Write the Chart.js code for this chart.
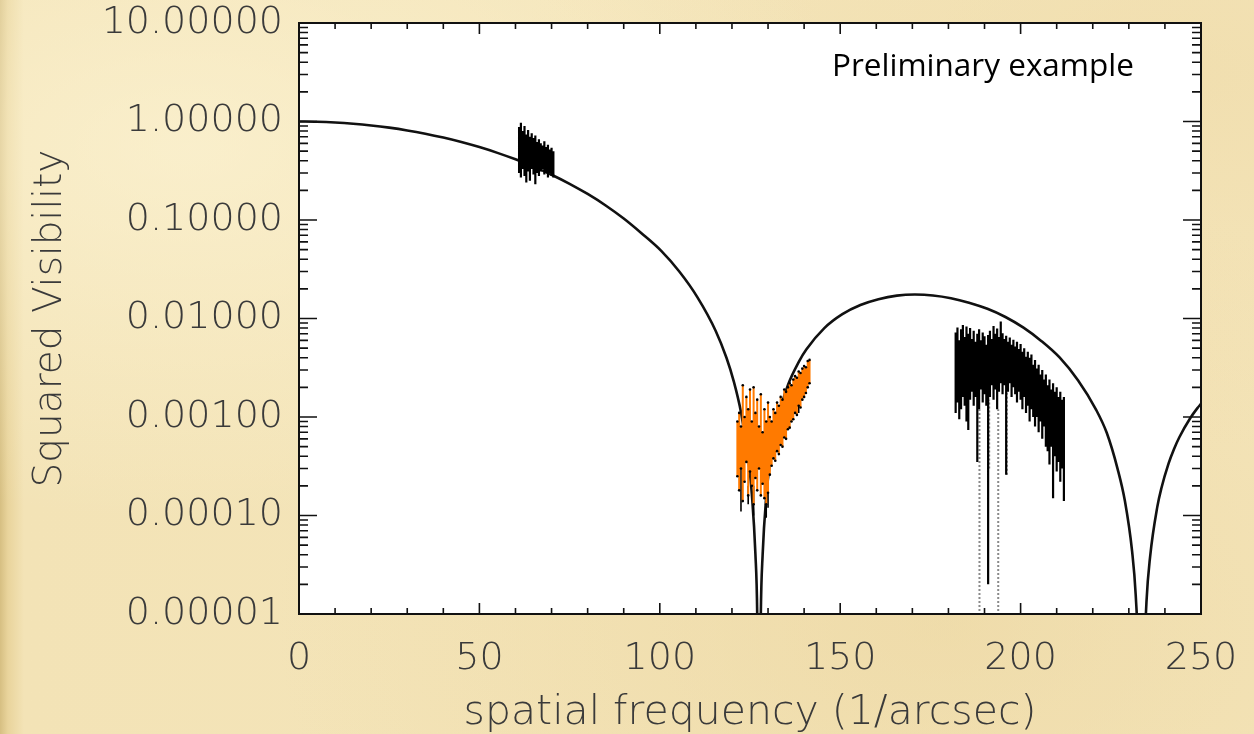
<!DOCTYPE html>
<html>
<head>
<meta charset="utf-8">
<script src="https://cdn.jsdelivr.net/npm/chart.js@4.4.1/dist/chart.umd.min.js"></script>
<style>
    html, body { margin: 0; padding: 0; }
    body {
        width: 1254px;
        height: 734px;
        overflow: hidden;
        background-color: #f4e4b8;
        background-image:
            radial-gradient(ellipse at 15% 20%, rgba(255, 248, 220, 0.55), transparent 45%),
            radial-gradient(ellipse at 75% 85%, rgba(232, 208, 150, 0.45), transparent 50%),
            radial-gradient(ellipse at 95% 10%, rgba(236, 214, 160, 0.45), transparent 40%),
            linear-gradient(90deg, #d6bf82 0px, #e9d49c 8px, #f3e3b6 24px, #f5e6bc 100%);
    }
    #wrap { position: relative; width: 1254px; height: 734px; }
    #note {
        position: absolute;
        left: 832px;
        top: 48px;
        font-family: "Open Sans", sans-serif;
        font-size: 31.5px;
        line-height: 31px;
        color: #000;
        white-space: nowrap;
    }
</style>
</head>
<body>
<div id="wrap">
    <canvas id="visChart" width="1254" height="734"></canvas>
    <div id="note">Preliminary example</div>
</div>
<script>
// axes
const xTicks = [0, 50, 100, 150, 200, 250];
const yTicks = [0.00001, 0.0001, 0.001, 0.01, 0.1, 1, 10];
const yTickLabels = ["0.00001", "0.00010", "0.00100", "0.01000", "0.10000", "1.00000", "10.00000"];

// model curve
const curveX = [0, 5, 10, 15, 20, 25, 30, 35, 40, 45, 50, 55, 60, 65, 70, 75, 80, 85, 90, 95,
    100.4, 105.4, 110.4, 115.5, 118.5, 120.5, 122.5, 124.5, 125.5, 126.5, 127, 127.5, 128, 128.5,
    129.5, 130.5, 132.5, 135.5, 138.6, 140.6, 145.6, 150.6, 155.6, 160.6, 165.7, 170.7, 175.7,
    180.7, 185.7, 190.8, 195.8, 200.8, 205.8, 210.8, 215.9, 220.9, 223.9, 226.9, 228.9, 230.9,
    231.9, 232.9, 233.4, 233.9, 234.9, 235.9, 237.9, 239, 241, 242.5, 244, 247, 249, 250];
const curveY = [1, 0.9943, 0.9775, 0.9499, 0.9124, 0.8659, 0.8119, 0.7516, 0.6867, 0.6188,
    0.5495, 0.4804, 0.4130, 0.3486, 0.2883, 0.2331, 0.1837, 0.1405, 0.1035, 0.0730,
    0.0486, 0.0300, 0.0165, 0.00748, 0.00397, 0.0023, 0.00112, 0.000383, 0.000167, 0.0000407,
    0.00001, 0.0000001, 0.00001, 0.0000398,
    0.000155, 0.00034, 0.00089, 0.0021, 0.00367, 0.00484, 0.00798, 0.01106, 0.0137, 0.01569,
    0.01706, 0.0175, 0.01715, 0.01609, 0.01447, 0.01254, 0.01036, 0.00807, 0.00589, 0.00402,
    0.00236, 0.00119, 0.000687, 0.000296, 0.000141, 0.0000434, 0.0000157, 0.0000018,
    0.0000001, 0.0000013, 0.0000135, 0.0000383, 0.000123, 0.000188, 0.000336, 0.000471,
    0.000623, 0.00097, 0.00123, 0.00136];

// measurements near 65 (black)
const aX = [61, 61.5, 62, 62.5, 63, 63.5, 64, 64.5, 65, 65.5, 66, 66.5, 67, 67.5, 68, 68.5, 69, 69.5, 70, 70.5];
const aHi = [0.88, 0.97, 0.80, 0.90, 0.74, 0.82, 0.70, 0.76, 0.68, 0.72, 0.62, 0.66, 0.60, 0.57, 0.63, 0.55, 0.58, 0.52, 0.54, 0.50];
const aLo = [0.30, 0.27, 0.33, 0.28, 0.24, 0.31, 0.25, 0.33, 0.29, 0.23, 0.30, 0.28, 0.31, 0.33, 0.29, 0.30, 0.27, 0.30, 0.28, 0.27];

// measurements near the first null (orange)
const bX = [121.5, 122, 122.5, 123, 123.5, 124, 124.5, 125, 125.5, 126, 126.5, 127, 127.5, 128,
    128.5, 129, 129.5, 130, 130.5, 131, 131.5, 132, 132.5, 133, 133.5, 134, 134.5, 135, 135.5,
    136, 136.5, 137, 137.5, 138, 138.5, 139, 139.5, 140, 140.5, 141, 141.5];
const bHi = [0.0009, 0.0011, 0.0008, 0.0021, 0.0010, 0.0016, 0.0012, 0.0019, 0.0009, 0.0020,
    0.0011, 0.0015, 0.0008, 0.0017, 0.0007, 0.0012, 0.0009, 0.0014, 0.0010, 0.0009, 0.0012,
    0.0011, 0.0014, 0.0013, 0.0016, 0.0015, 0.0019, 0.0018, 0.0020, 0.0022, 0.0021, 0.0024,
    0.0026, 0.0025, 0.0029, 0.0028, 0.0031, 0.0033, 0.0032, 0.0037, 0.0038];
const bLo = [0.00025, 0.00018, 0.00030, 0.00014, 0.00022, 0.00035, 0.00016, 0.00028, 0.00020,
    0.00013, 0.00024, 0.00018, 0.00030, 0.00016, 0.00021, 0.00015, 0.00013, 0.00017, 0.00026,
    0.00032, 0.00038, 0.00036, 0.00045, 0.00042, 0.00052, 0.00050, 0.00062, 0.00060, 0.00075,
    0.00078, 0.00090, 0.00095, 0.00110, 0.00105, 0.00130, 0.00125, 0.00150, 0.00160, 0.00175,
    0.00200, 0.00220];
// black error bars sticking out of the orange block
const bSpikeX = [122.5, 124.5, 126, 129.5, 130, 138.5];
const bSpikeHi = [0.0003, 0.0002, 0.0002, 0.0002, 0.0002, 0.0015];
const bSpikeLo = [0.00011, 0.00013, 0.0001, 0.000095, 0.00012, 0.0011];

// measurements on the second lobe (black)
const cX = [182, 182.5, 183, 183.5, 184, 184.5, 185, 185.5, 186, 186.5, 187, 187.5, 188, 188.5,
    189, 189.5, 190, 190.5, 191, 191.5, 192, 192.5, 193, 193.5, 194, 194.5, 195, 195.5, 196,
    196.5, 197, 197.5, 198, 198.5, 199, 199.5, 200, 200.5, 201, 201.5, 202, 202.5, 203, 203.5,
    204, 204.5, 205, 205.5, 206, 206.5, 207, 207.5, 208, 208.5, 209, 209.5, 210, 210.5, 211,
    211.5, 212];
const cHi = [0.0072, 0.0081, 0.0060, 0.0078, 0.0086, 0.0065, 0.0083, 0.0070, 0.0080, 0.0062,
    0.0075, 0.0058, 0.0070, 0.0078, 0.0060, 0.0072, 0.0066, 0.0054, 0.0068, 0.0075, 0.0062,
    0.0084, 0.0070, 0.0079, 0.0065, 0.0093, 0.0071, 0.0062, 0.0067, 0.0058, 0.0064, 0.0054,
    0.0061, 0.0052, 0.0058, 0.0049, 0.0055, 0.0046, 0.0050, 0.0041, 0.0046, 0.0040, 0.0043,
    0.0034, 0.0038, 0.0031, 0.0034, 0.0027, 0.0030, 0.0024, 0.0027, 0.0021, 0.0024, 0.0019,
    0.0022, 0.0018, 0.0020, 0.0016, 0.0018, 0.0015, 0.0016];
const cLo = [0.0011, 0.0014, 0.00095, 0.0012, 0.0016, 0.0013, 0.0009, 0.00074, 0.0015, 0.0018,
    0.0013, 0.0016, 0.00035, 0.0012, 0.0019, 0.0014, 0.0017, 0.0013, 0.00002, 0.0016, 0.0021,
    0.0015, 0.0019, 0.0012, 0.0018, 0.0022, 0.0017, 0.0021, 0.00026, 0.0018, 0.0022, 0.0016,
    0.0020, 0.0017, 0.0014, 0.0018, 0.0015, 0.0012, 0.0016, 0.0011, 0.0013, 0.0009, 0.0012,
    0.0010, 0.0008, 0.0010, 0.0007, 0.0009, 0.0006, 0.0008, 0.0005, 0.00045, 0.00033, 0.0005,
    0.00015, 0.0004, 0.00028, 0.00035, 0.00022, 0.0003, 0.00014];
// error bars that run below zero (grey dotted)
const dX = [188.6, 191.3, 193.8, 196.2];
const dHi = [0.0012, 0.0015, 0.0012, 0.0020];
const dLo = [0.0000001, 0.0003, 0.0000001, 0.00026];

function errorBars(xs, lo, hi) {
    const pts = [];
    xs.forEach((x, i) => {
        pts.push({ x: x, y: lo[i] }, { x: x, y: hi[i] }, { x: x, y: null });
    });
    return pts;
}

const textColor = "#3a3a3a";
// lineHeight is kept tiny on y so the top label does not push the plot down
const yFont = { family: "DejaVu Sans", size: 38, weight: 200, lineHeight: 0.2 };
// on x the line height carries the label below the axis instead of ticks.padding
const xFont = { family: "DejaVu Sans", size: 38, weight: 200, lineHeight: 2.36 };
const xTitleFont = { family: "DejaVu Sans", size: 41, weight: 200, lineHeight: 1 };
const yTitleFont = { family: "DejaVu Sans", size: 39, weight: 200, lineHeight: 1 };

// white plot area, frame and inward IDL-style ticks
const framePlugin = {
    id: "frame",
    beforeDraw(chart) {
        const a = chart.chartArea;
        const c = chart.ctx;
        c.save();
        c.fillStyle = "#ffffff";
        c.fillRect(a.left, a.top, a.right - a.left, a.bottom - a.top);
        c.restore();
    },
    afterDatasetsDraw(chart) {
        const a = chart.chartArea;
        const c = chart.ctx;
        const xs = chart.scales.x;
        const ys = chart.scales.y;
        c.save();
        c.strokeStyle = "#111";
        c.lineWidth = 1.6;
        c.beginPath();
        for (let v = 0; v <= 250; v += 10) {
            const px = xs.getPixelForValue(v);
            const len = v % 50 === 0 ? 11 : 6;
            c.moveTo(px, a.bottom); c.lineTo(px, a.bottom - len);
            c.moveTo(px, a.top); c.lineTo(px, a.top + len);
        }
        for (let e = -5; e <= 0; e++) {
            for (let m = 1; m <= 9; m++) {
                const py = ys.getPixelForValue(m * Math.pow(10, e));
                const len = m === 1 ? 18 : 9;
                c.moveTo(a.left, py); c.lineTo(a.left + len, py);
                c.moveTo(a.right, py); c.lineTo(a.right - len, py);
            }
        }
        c.stroke();
        c.lineWidth = 2;
        c.strokeRect(a.left, a.top, a.right - a.left, a.bottom - a.top);
        c.restore();
    }
};

const ctx = document.getElementById("visChart").getContext("2d");
new Chart(ctx, {
    type: "line",
    data: {
        datasets: [
            {
                label: "orange data",
                data: errorBars(bX, bLo, bHi),
                borderColor: "#ff7a00",
                borderWidth: 2,
                pointRadius: 1.3,
                pointBorderWidth: 0,
                pointBackgroundColor: "#000",
                order: 0
            },
            {
                label: "orange data spikes",
                data: errorBars(bSpikeX, bSpikeLo, bSpikeHi),
                borderColor: "#000",
                borderWidth: 1.6,
                pointRadius: 0,
                order: 1
            },
            {
                label: "data 1",
                data: errorBars(aX, aLo, aHi),
                borderColor: "#000",
                borderWidth: 2.2,
                pointRadius: 0,
                order: 2
            },
            {
                label: "data 2",
                data: errorBars(cX, cLo, cHi),
                borderColor: "#000",
                borderWidth: 2.2,
                pointRadius: 0,
                order: 2
            },
            {
                label: "negative",
                data: errorBars(dX, dLo, dHi),
                borderColor: "#8a8a8a",
                borderWidth: 2,
                borderDash: [2, 2],
                pointRadius: 0,
                order: 3
            },
            {
                label: "model",
                data: curveX.map((x, i) => ({ x: x, y: curveY[i] })),
                borderColor: "#111",
                borderWidth: 2.6,
                pointRadius: 0,
                cubicInterpolationMode: "monotone",
                order: 4
            }
        ]
    },
    options: {
        responsive: false,
        animation: false,
        events: [],
        spanGaps: false,
        layout: { padding: { left: 0, right: 53, top: 23, bottom: 0 } },
        plugins: {
            legend: { display: false },
            tooltip: { enabled: false }
        },
        scales: {
            x: {
                type: "linear",
                min: 0,
                max: 250,
                grid: { display: false, drawTicks: false },
                border: { display: false },
                afterBuildTicks: (scale) => { scale.ticks = xTicks.map(v => ({ value: v })); },
                afterFit: (scale) => { scale.height = 120; },
                ticks: {
                    font: xFont,
                    color: textColor,
                    padding: 0,
                    maxRotation: 0,
                    autoSkip: false,
                    callback: (v) => String(v)
                },
                title: {
                    display: true,
                    text: "spatial frequency (1/arcsec)",
                    font: xTitleFont,
                    color: textColor,
                    padding: { top: 0, bottom: 0 }
                }
            },
            y: {
                type: "logarithmic",
                min: 0.00001,
                max: 10,
                grid: { display: false, drawTicks: false },
                border: { display: false },
                afterBuildTicks: (scale) => { scale.ticks = yTicks.map(v => ({ value: v })); },
                afterFit: (scale) => { scale.width = 299; },
                ticks: {
                    font: yFont,
                    color: textColor,
                    padding: 16,
                    autoSkip: false,
                    callback: (v, i) => yTickLabels[i]
                },
                title: {
                    display: true,
                    text: "Squared Visibility",
                    font: yTitleFont,
                    color: textColor,
                    padding: { top: 31, bottom: 0 }
                }
            }
        }
    },
    plugins: [framePlugin]
});
</script>
</body>
</html>
